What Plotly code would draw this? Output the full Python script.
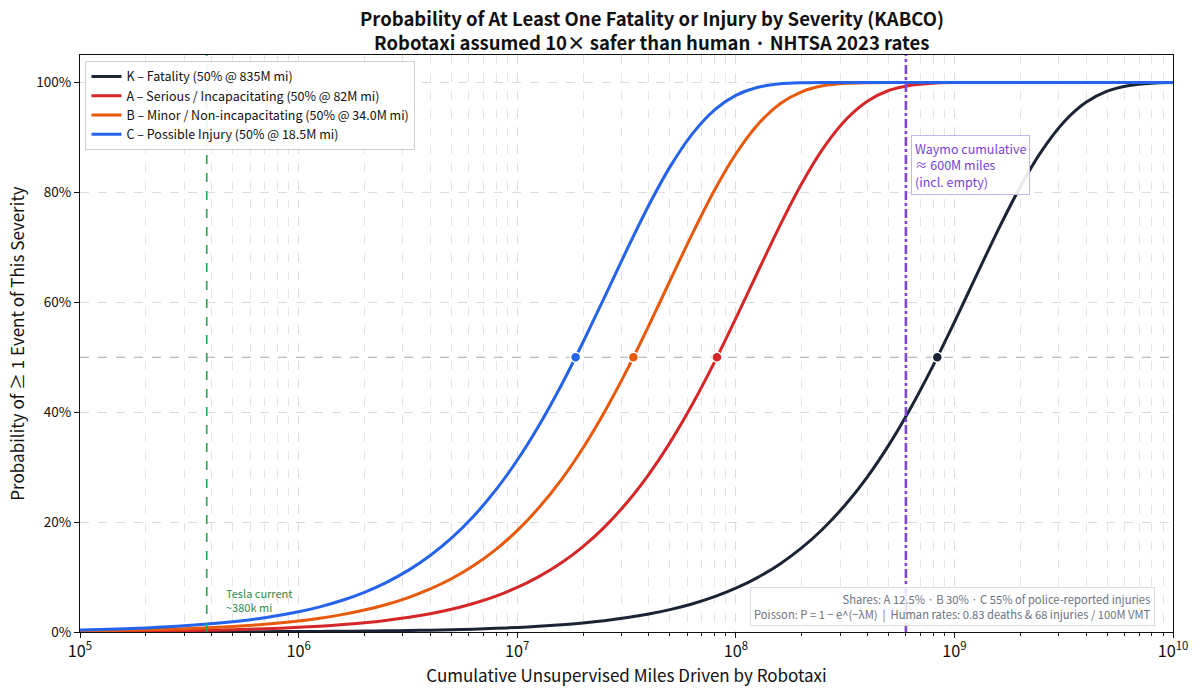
import plotly.graph_objects as go

FONT = "Noto Sans CJK JP"

miles = [1e5, 1.5e5, 2e5, 3e5, 5e5, 7e5,
         1e6, 1.25e6, 1.6e6, 2e6, 2.5e6, 3.2e6, 4e6, 5e6, 6.3e6, 8e6,
         1e7, 1.25e7, 1.6e7, 2e7, 2.5e7, 3.2e7, 4e7, 5e7, 6.3e7, 8e7,
         1e8, 1.25e8, 1.6e8, 2e8, 2.5e8, 3.2e8, 4e8, 5e8, 6.3e8, 8e8,
         1e9, 1.25e9, 1.6e9, 2e9, 2.5e9, 3.2e9, 4e9, 5e9, 6.3e9, 8e9,
         1e10]

p_K = [0.0083, 0.0125, 0.0166, 0.0249, 0.0415, 0.0581,
       0.083, 0.1037, 0.1327, 0.1659, 0.2073, 0.2653, 0.3315, 0.4142, 0.5216, 0.6619,
       0.8267, 1.032, 1.319, 1.647, 2.054, 2.621, 3.266, 4.066, 5.095, 6.425,
       7.966, 9.856, 12.44, 15.30, 18.74, 23.33, 28.25, 33.97, 40.72, 48.53,
       56.40, 64.57, 73.50, 80.99, 87.45, 92.98, 96.39, 98.42, 99.46, 99.87,
       99.98]
p_A = [0.0845, 0.127, 0.169, 0.253, 0.422, 0.590,
       0.842, 1.051, 1.343, 1.676, 2.091, 2.669, 3.325, 4.138, 5.186, 6.539,
       8.106, 10.03, 12.65, 15.55, 19.05, 23.70, 28.69, 34.47, 41.29, 49.15,
       57.06, 65.24, 74.14, 81.56, 87.92, 93.31, 96.60, 98.54, 99.51, 99.88,
       99.98, 100, 100, 100, 100, 100, 100, 100, 100, 100,
       100]
p_B = [0.204, 0.305, 0.407, 0.610, 1.014, 1.417,
       2.018, 2.516, 3.209, 3.995, 4.969, 6.316, 7.831, 9.691, 12.05, 15.05,
       18.44, 22.50, 27.83, 33.48, 39.93, 47.92, 55.76, 63.92, 72.32, 80.43,
       86.98, 92.18, 96.17, 98.30, 99.39, 99.85, 99.97, 100, 100, 100,
       100, 100, 100, 100, 100, 100, 100, 100, 100, 100,
       100]
p_C = [0.374, 0.560, 0.747, 1.118, 1.856, 2.589,
       3.678, 4.575, 5.819, 7.220, 8.942, 11.30, 13.92, 17.08, 21.03, 25.90,
       31.25, 37.40, 45.09, 52.73, 60.81, 69.85, 77.66, 84.64, 90.56, 95.01,
       97.64, 99.08, 99.75, 99.94, 99.99, 100, 100, 100, 100, 100,
       100, 100, 100, 100, 100, 100, 100, 100, 100, 100,
       100]

series_names = ["K – Fatality (50% @ 835M mi)",
                "A – Serious / Incapacitating (50% @ 82M mi)",
                "B – Minor / Non-incapacitating (50% @ 34.0M mi)",
                "C – Possible Injury (50% @ 18.5M mi)"]
series_values = [p_K, p_A, p_B, p_C]
half_miles = [835e6, 82e6, 34.0e6, 18.5e6]
colors = ["#1b2434", "#d62728", "#e8590c", "#2563eb"]

y_ticks = [0, 20, 40, 60, 80, 100]
y_labels = ["0%", "20%", "40%", "60%", "80%", "100%"]

tesla_miles = 3.8e5
waymo_miles = 6e8

fig = go.Figure()

for name, vals, col in zip(series_names, series_values, colors):
    fig.add_trace(go.Scatter(x=miles, y=vals, mode="lines", name=name,
                             line=dict(color=col, width=3, shape="spline", smoothing=0.8)))

for hm, col in zip(half_miles, colors):
    fig.add_trace(go.Scatter(x=[hm], y=[50], mode="markers", showlegend=False,
                             marker=dict(color=col, size=10, line=dict(color="white", width=1.5))))

# reference lines
fig.add_hline(y=50, line=dict(color="#a8abb3", width=1.2, dash="dash"), layer="below")
fig.add_vline(x=tesla_miles, line=dict(color="#2f9e5a", width=1.6, dash="dash"))
fig.add_vline(x=waymo_miles, line=dict(color="#7f45d9", width=2.6, dash="dashdot"))

fig.add_annotation(x=5.0 + (224 - 80) / 219.2, y=5.8, xref="x", yref="y",
                   text="Tesla current<br>~380k mi", showarrow=False, align="left",
                   xanchor="left", yanchor="middle",
                   font=dict(family=FONT, size=11, color="#2f8a4f"))

fig.add_annotation(x=8.778 + 0.025, y=90.5, xref="x", yref="y",
                   text="Waymo cumulative<br>≈ 600M miles<br>(incl. empty)", showarrow=False,
                   align="left", xanchor="left", yanchor="top",
                   font=dict(family=FONT, size=12.5, color="#7b3fd4"),
                   bgcolor="rgba(255,255,255,0.9)", bordercolor="#c9b3ee", borderwidth=1, borderpad=3)

fig.add_annotation(x=0.9836, y=0.011, xref="paper", yref="paper",
                   text="Shares: A 12.5% · B 30% · C 55% of police-reported injuries<br>"
                        "Poisson: P = 1 − e^(−λM)  |  Human rates: 0.83 deaths &amp; 68 injuries / 100M VMT",
                   showarrow=False, align="right", xanchor="right", yanchor="bottom",
                   font=dict(family=FONT, size=11.2, color="#6b7280"),
                   bgcolor="rgba(255,255,255,0.85)", bordercolor="#d9dde6", borderwidth=1, borderpad=3)

# title as two centered lines
fig.add_annotation(x=0.523, y=18, xref="paper", yref="paper", yanchor="middle",
                   text="<b>Probability of At Least One Fatality or Injury by Severity (KABCO)</b>",
                   showarrow=False, font=dict(family=FONT, size=18.5, color="#111111"))
fig.add_annotation(x=0.523, y=42, xref="paper", yref="paper", yanchor="middle",
                   text="<b>Robotaxi assumed 10× safer than human · NHTSA 2023 rates</b>",
                   showarrow=False, font=dict(family=FONT, size=18.5, color="#111111"))

fig.update_layout(
    width=1200, height=692,
    margin=dict(l=80, r=24, t=55, b=59),
    paper_bgcolor="white", plot_bgcolor="white",
    font=dict(family=FONT, color="#111111"),
    legend=dict(x=0.005, y=0.99, xanchor="left", yanchor="top",
                bgcolor="rgba(255,255,255,0.9)", bordercolor="#d0d0d0", borderwidth=1,
                font=dict(family=FONT, size=12.5, color="#111111"), tracegroupgap=0,
                itemwidth=30),
    showlegend=True,
)

# convert title pixel rows into paper coordinates
plot_h = 692 - 55 - 59
for ann in fig.layout.annotations[-2:]:
    ann.y = 1 + (55 - ann.y) / plot_h

fig.update_xaxes(type="log", range=[5, 10], dtick=1, exponentformat="power",
                 showline=True, linecolor="#111111", linewidth=1.2, mirror=True,
                 ticks="outside", ticklen=5, tickcolor="#111111",
                 showgrid=True, gridcolor="#dcdcdc", griddash="dash", gridwidth=1,
                 minor=dict(ticks="outside", ticklen=3, tickcolor="#111111",
                            showgrid=True, gridcolor="#e4e4e4", griddash="dash"),
                 tickfont=dict(family=FONT, size=13, color="#111111"),
                 title=dict(text="Cumulative Unsupervised Miles Driven by Robotaxi",
                            font=dict(family=FONT, size=17, color="#111111"), standoff=6),
                 zeroline=False)

fig.update_yaxes(range=[0, 105], tickvals=y_ticks, ticktext=y_labels,
                 showline=True, linecolor="#111111", linewidth=1.2, mirror=True,
                 ticks="outside", ticklen=5, tickcolor="#111111",
                 showgrid=True, gridcolor="#dcdcdc", griddash="dash", gridwidth=1,
                 tickfont=dict(family=FONT, size=13.5, color="#111111"),
                 title=dict(text="Probability of ≥ 1 Event of This Severity",
                            font=dict(family=FONT, size=17, color="#111111"), standoff=7),
                 zeroline=False)

fig.write_html("out.html")
